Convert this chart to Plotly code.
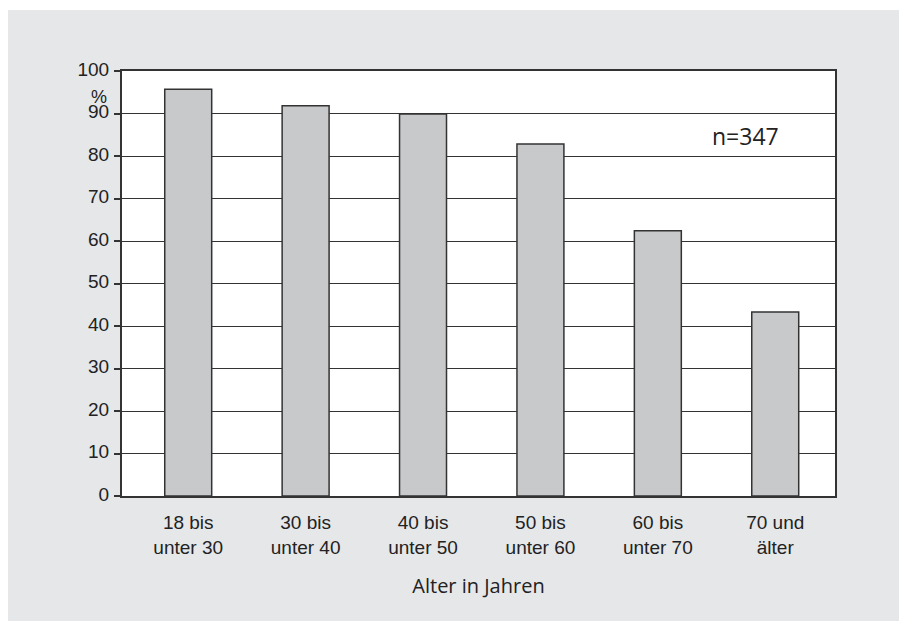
import plotly.graph_objects as go

categories = ["18 bis<br>unter 30", "30 bis<br>unter 40", "40 bis<br>unter 50",
              "50 bis<br>unter 60", "60 bis<br>unter 70", "70 und<br>älter"]
values = [95.7, 91.8, 89.9, 82.8, 62.4, 43.3]
y_ticks = [0, 10, 20, 30, 40, 50, 60, 70, 80, 90, 100]

# page is rendered with an 8px body margin
OFF = 8
W, H = 899, 613
L, R, T, B = 114, 72, 63, 125
pw, ph = W - L - R, H - T - B

def px_x(px):
    return (px - OFF - L) / pw

def px_y(py):
    return (H - B - (py - OFF)) / ph

fig = go.Figure()
fig.add_trace(go.Bar(
    x=categories, y=values,
    marker=dict(color="#c8c9cb", line=dict(color="#333333", width=1.5)),
    width=0.4,
))

fig.update_layout(
    width=W, height=H,
    margin=dict(l=L, r=R, t=T, b=B),
    paper_bgcolor="#e6e7e9",
    plot_bgcolor="white",
    showlegend=False,
    font=dict(family="Liberation Sans, Arial", size=19, color="#222222"),
    xaxis=dict(
        range=[-0.564, 5.509],
        showline=True, linecolor="#333333", linewidth=2, mirror=True,
        ticks="", showgrid=False,
        ticklabelstandoff=8,
        tickfont=dict(family="Liberation Sans, Arial", size=19, color="#222222"),
        title=dict(text="Alter in Jahren", standoff=22,
                   font=dict(family="Open Sans, Noto Sans", size=20, color="#222222")),
    ),
    yaxis=dict(
        range=[0, 100], tickvals=y_ticks,
        showline=True, linecolor="#333333", linewidth=2, mirror=True,
        ticks="outside", ticklen=6, tickcolor="#333333", tickwidth=1.5,
        showgrid=True, gridcolor="#333333", gridwidth=1.2,
        zeroline=False,
        ticklabelstandoff=1,
        ticklabelshift=-2,
        tickfont=dict(family="Liberation Sans, Arial", size=19, color="#222222"),
    ),
    shapes=[
        dict(type="rect", xref="paper", yref="paper", layer="below",
             x0=px_x(-5), x1=px_x(W + 20), y0=px_y(10), y1=px_y(0),
             fillcolor="white", line=dict(width=0)),
    ],
    annotations=[
        dict(text="%", xref="paper", yref="paper", x=px_x(109), y=px_y(97),
             xanchor="right", yanchor="middle", showarrow=False,
             font=dict(family="Liberation Sans, Arial", size=18, color="#222222")),
        dict(text="n=347", xref="paper", yref="paper", x=px_x(745), y=px_y(136),
             xanchor="center", yanchor="middle", showarrow=False,
             font=dict(family="Open Sans, Noto Sans", size=23, color="#222222")),
    ],
)

fig.write_html("out.html")
